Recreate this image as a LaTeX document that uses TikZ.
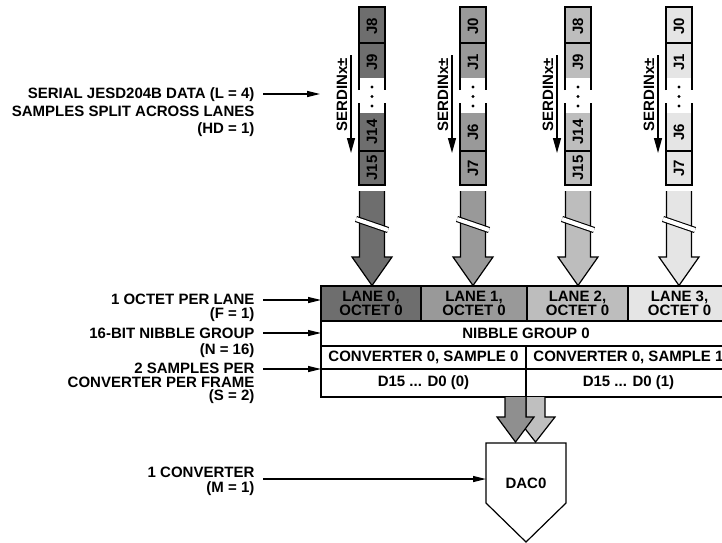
\documentclass[tikz,border=0pt]{standalone}
\usepackage{fontspec}
\setmainfont{Liberation Sans}
\usetikzlibrary{arrows.meta}
\definecolor{cA}{RGB}{110,110,110}
\definecolor{cB}{RGB}{153,153,153}
\definecolor{cC}{RGB}{189,189,189}
\definecolor{cD}{RGB}{229,229,229}
\definecolor{arrA}{RGB}{143,143,143}
\definecolor{arrB}{RGB}{191,191,191}
\begin{document}
\begin{tikzpicture}[x=1pt,y=-1pt,line width=1.2pt,line join=miter,
  lbl/.style={anchor=north east,align=right,inner sep=0pt,font=\fontsize{15}{#1}\selectfont\bfseries},
  cell/.style={draw,inner sep=0pt,align=center,font=\fontsize{15}{12.5}\selectfont\bfseries},
  jtxt/.style={rotate=90,inner sep=0pt,font=\fontsize{15}{17}\selectfont\bfseries},
  ptr/.style={-{Triangle[length=13pt,width=6pt]},line width=1.3pt},
  vptr/.style={-{Triangle[length=15pt,width=8pt]},line width=1.3pt},
  brk/.style={double=white,double distance=4pt,line width=1.1pt}]
\useasboundingbox (0,0) rectangle (722,542);
\clip (0,0) rectangle (722,542);

% lanes
\foreach \cx/\col/\a/\b/\c/\d/\n in {372/cA/J8/J9/J14/J15/0,473/cB/J0/J1/J6/J7/1,578/cC/J8/J9/J14/J15/2,679/cD/J0/J1/J6/J7/3}{
  \fill[\col] (\cx-13,7) rectangle (\cx+13,185);
  \fill[white] (\cx-13,78) rectangle (\cx+13,113);
  \draw (\cx-13,90) -- (\cx-13,7) -- (\cx+13,7) -- (\cx+13,90);
  \draw (\cx-13,103) -- (\cx-13,185) -- (\cx+13,185) -- (\cx+13,103);
  \draw (\cx-13,43) -- (\cx+13,43);
  \draw (\cx-13,151) -- (\cx+13,151);
  \node[jtxt] (ja\n) at (\cx,26) {\a};
  \node[jtxt] (jb\n) at (\cx,62) {\b};
  \node[jtxt] (jc\n) at (\cx,132) {\c};
  \node[jtxt] (jd\n) at (\cx,168) {\d};
  \foreach \yy in {87,96.5,106} \fill (\cx,\yy) circle (1.7pt);
  \node[jtxt] (sd\n) at (\cx-30,95) {SERDINx±};
  \coordinate (st\n) at (\cx-21,55);
  \coordinate (se\n) at (\cx-21,153);
  \draw[vptr] (st\n) -- (se\n);
  \draw[fill=\col] (\cx-12.5,191) -- (\cx-12.5,257) -- (\cx-20,257) -- (\cx,285.5) -- (\cx+20,257) -- (\cx+12.5,257) -- (\cx+12.5,191);
  \draw[brk] (\cx-16,219) -- (\cx+16,230);
}

% table
\node[cell,fill=cA,minimum width=100pt,minimum height=35pt] (h0) at (371,303.5) {LANE 0,\\OCTET 0};
\node[cell,fill=cB,minimum width=106pt,minimum height=35pt] (h1) at (474,303.5) {LANE 1,\\OCTET 0};
\node[cell,fill=cC,minimum width=101pt,minimum height=35pt] (h2) at (577.5,303.5) {LANE 2,\\OCTET 0};
\node[cell,fill=cD,minimum width=103pt,minimum height=35pt] (h3) at (679.5,303.5) {LANE 3,\\OCTET 0};
\node[cell,minimum width=410pt,minimum height=25pt] (ng) at (526,333.5) {NIBBLE GROUP 0};
\node[cell,minimum width=205pt,minimum height=23pt] (cs0) at (423.5,357.5) {CONVERTER 0, SAMPLE 0};
\node[cell,minimum width=205pt,minimum height=23pt] (cs1) at (628.5,357.5) {CONVERTER 0, SAMPLE 1};
\node[cell,minimum width=205pt,minimum height=28pt] (d0) at (423.5,383) {D15 ... D0 (0)};
\node[cell,minimum width=205pt,minimum height=28pt] (d1) at (628.5,383) {D15 ... D0 (1)};

% DAC arrows
\draw[fill=arrB] (526,397) -- (526,417) -- (516,417) -- (535.5,442) -- (555,417) -- (545,417) -- (545,397);
\draw[fill=arrA] (505,397) -- (505,417) -- (497,417) -- (515.5,442) -- (534,417) -- (526,417) -- (526,397);

% DAC
\draw (486,443) -- (566,443) -- (566,503) -- (526,542) -- (486,503) -- cycle;
\node[inner sep=0pt,font=\fontsize{15}{17}\selectfont\bfseries] (dac) at (526,483) {DAC0};

% left labels
\node[lbl=17.5] (l1) at (255,87.5) {SERIAL JESD204B DATA (L = 4)\\SAMPLES SPLIT ACROSS LANES\\(HD = 1)};
\node[lbl=14] (l2) at (255,293.5) {1 OCTET PER LANE\\(F = 1)};
\node[lbl=15.5] (l3) at (255,327.5) {16-BIT NIBBLE GROUP\\(N = 16)};
\node[lbl=13.5] (l4) at (255,362.5) {2 SAMPLES PER\\CONVERTER PER FRAME\\(S = 2)};
\node[lbl=15] (l5) at (255,466.5) {1 CONVERTER\\(M = 1)};

\coordinate (a1s) at (263,94);  \coordinate (a1e) at (320,94);
\coordinate (a2s) at (263,300); \coordinate (a2e) at (321,300);
\coordinate (a3s) at (263,333); \coordinate (a3e) at (321,333);
\coordinate (a4s) at (263,369); \coordinate (a4e) at (321,369);
\coordinate (a5s) at (263,479); \coordinate (a5e) at (486,479);
\draw[ptr] (a1s) -- (a1e);
\draw[ptr] (a2s) -- (a2e);
\draw[ptr] (a3s) -- (a3e);
\draw[ptr] (a4s) -- (a4e);
\draw[ptr] (a5s) -- (a5e);
\end{tikzpicture}
\end{document}
